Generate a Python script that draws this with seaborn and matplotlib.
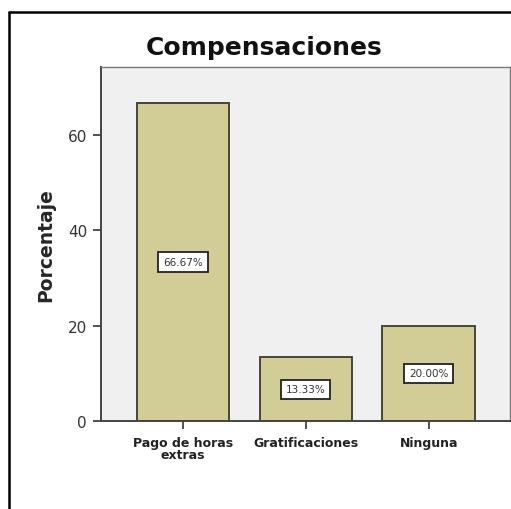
import matplotlib
matplotlib.use("Agg")
import matplotlib.pyplot as plt
import seaborn as sns
from matplotlib.lines import Line2D

# data
categorias = ["Pago de horas\nextras", "Gratificaciones", "Ninguna"]
porcentajes = [66.67, 13.33, 20.00]
etiquetas = ["66.67%", "13.33%", "20.00%"]
y_ticks = [0, 20, 40, 60]

sns.set_style("white")
plt.rcParams["font.family"] = ["DejaVu Sans"]

fig = plt.figure(figsize=(5.11, 5.10), dpi=100)
ax = fig.add_axes([101 / 511, 1 - 422 / 510, 409 / 511, 354 / 510])
ax.set_facecolor("#f0f0f0")

sns.barplot(x=categorias, y=porcentajes, color="#d2cd96", edgecolor="#3a3a30",
            linewidth=1.3, width=0.755, saturation=1, ax=ax)

# boxed value labels in the middle of each bar
for i, (v, lab) in enumerate(zip(porcentajes, etiquetas)):
    ax.text(i, v / 2, lab, ha="center", va="center", fontsize=7.5, color="#333333",
            bbox=dict(boxstyle="square,pad=0.45", fc="white", ec="#222222", lw=1.3))

ax.set_xlim(-0.667, 2.66)
ax.set_ylim(0, 74.2)
ax.set_yticks(y_ticks)
ax.set_yticklabels([str(t) for t in y_ticks], fontsize=11, color="#333333")
ax.tick_params(axis="y", left=True, direction="out", length=6, width=1.3,
               color="#444444", pad=4)
ax.tick_params(axis="x", bottom=True, direction="out", length=6, width=1.3,
               color="#444444", pad=5)
for lab in ax.get_xticklabels():
    lab.set_fontsize(9)
    lab.set_fontweight("bold")
    lab.set_color("#222222")
    lab.set_linespacing(0.85)

ax.set_xlabel("")
ax.set_ylabel("Porcentaje", fontsize=13.5, fontweight="bold", labelpad=9)

for side in ["left", "bottom"]:
    ax.spines[side].set_color("#444444")
    ax.spines[side].set_linewidth(1.4)
for side in ["top", "right"]:
    ax.spines[side].set_visible(True)
    ax.spines[side].set_color("#777777")
    ax.spines[side].set_linewidth(1.0)

fig.text(264 / 511, 1 - 48 / 510, "Compensaciones", ha="center", va="center",
         fontsize=18, fontweight="bold", color="#111111")

# outer frame (only left and top edges visible in the reference)
fig.add_artist(Line2D([9 / 511, 9 / 511], [0, 1 - 13 / 510], transform=fig.transFigure,
                      color="black", lw=1.8))
fig.add_artist(Line2D([9 / 511, 1], [1 - 13 / 510, 1 - 13 / 510], transform=fig.transFigure,
                      color="black", lw=1.8))

fig.savefig("out.png", dpi=100)
